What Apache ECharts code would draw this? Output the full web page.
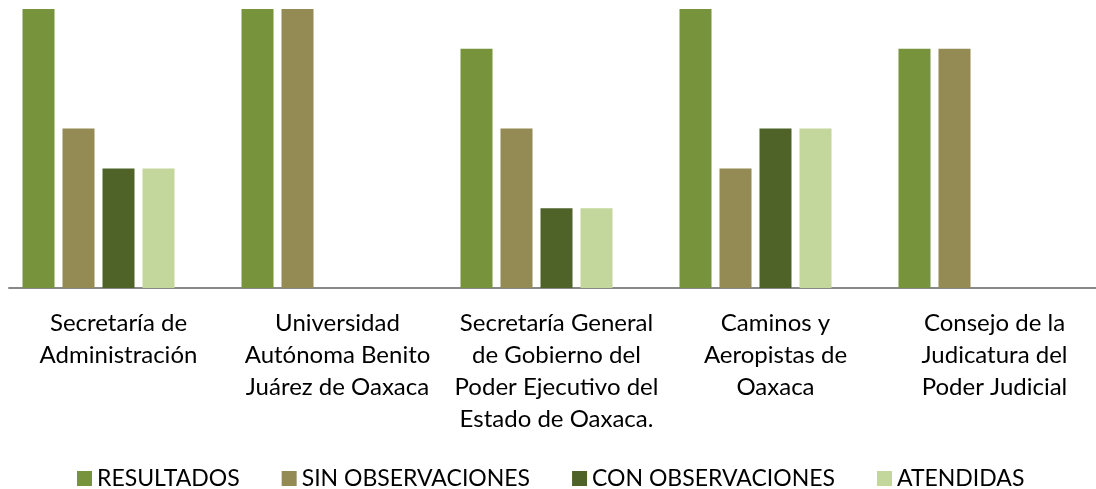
<!DOCTYPE html>
<html>
<head>
<meta charset="utf-8">
<script src="https://cdn.jsdelivr.net/npm/echarts@6/dist/echarts.min.js"></script>
<style>
  html, body { margin: 0; padding: 0; background: #fff; }
  #chart { width: 1096px; height: 489px; }
</style>
</head>
<body>
<div id="chart"></div>
<script>
/** 数据 */
var categories = [
  'Secretaría de\nAdministración',
  'Universidad\nAutónoma Benito\nJuárez de Oaxaca',
  'Secretaría General\nde Gobierno del\nPoder Ejecutivo del\nEstado de Oaxaca.',
  'Caminos y\nAeropistas de\nOaxaca',
  'Consejo de la\nJudicatura del\nPoder Judicial'
]
var seriesNames = ['RESULTADOS', 'SIN OBSERVACIONES', 'CON OBSERVACIONES', 'ATENDIDAS']
var resultados = [7, 7, 6, 7, 6]
var sinObservaciones = [4, 7, 4, 3, 6]
var conObservaciones = [3, null, 2, 4, null]
var atendidas = [3, null, 2, 4, null]
var colors = ['#77933C', '#948A54', '#4F6228', '#C3D69B']

var fontFamily = 'Lato, "Noto Sans", sans-serif'

var makeSeries = function(name, data, color) {
  return {
    name: name,
    type: 'bar',
    data: data,
    barWidth: 32,
    barGap: '25%',
    itemStyle: { color: color },
    emphasis: { disabled: true }
  }
}

var series = [
  makeSeries(seriesNames[0], resultados, colors[0]),
  makeSeries(seriesNames[1], sinObservaciones, colors[1]),
  makeSeries(seriesNames[2], conObservaciones, colors[2]),
  makeSeries(seriesNames[3], atendidas, colors[3]),
  // 空系列，占位（原图每组右侧留空）
  makeSeries('', [null, null, null, null, null], '#fff')
]

var option = {
  animation: false,
  backgroundColor: '#fff',
  grid: { left: 9, width: 1095, top: 9, bottom: 201, containLabel: false, outerBoundsMode: 'none' },
  legend: {
    data: seriesNames,
    left: 72,
    top: 462,
    icon: 'rect',
    itemWidth: 15,
    itemHeight: 15,
    itemGap: 42,
    textStyle: { fontFamily: fontFamily, fontSize: 23, color: '#000' }
  },
  xAxis: {
    type: 'category',
    data: categories,
    axisLine: { lineStyle: { color: '#888', width: 2 } },
    axisTick: { show: false },
    axisLabel: {
      interval: 0,
      margin: 19,
      fontFamily: fontFamily,
      fontSize: 24,
      lineHeight: 32,
      color: '#000',
      align: 'center'
    }
  },
  yAxis: {
    type: 'value',
    min: 0,
    max: 7,
    show: false,
    splitLine: { show: false }
  },
  series: series
}

var myChart = echarts.init(document.getElementById('chart'))
myChart.setOption(option)
</script>
</body>
</html>
